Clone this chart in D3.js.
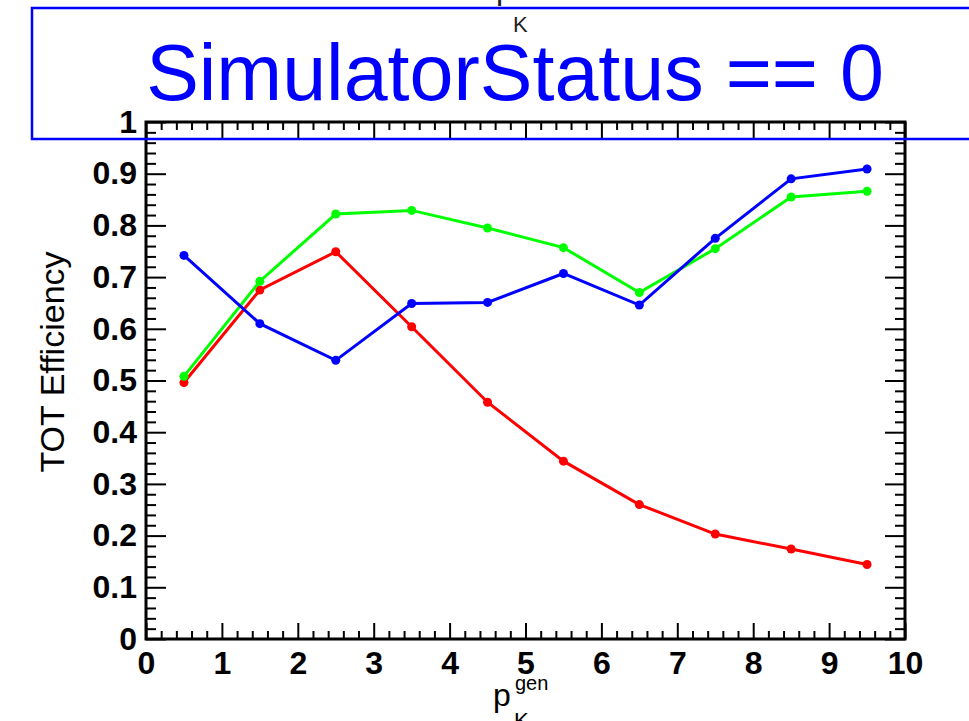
<!DOCTYPE html>
<html>
<head>
<meta charset="utf-8">
<script src="https://cdn.jsdelivr.net/npm/d3@7"></script>
<style>
  html, body { margin: 0; padding: 0; background: #fff; }
  svg { display: block; font-family: "Liberation Sans", Arial, Helvetica, sans-serif; }
</style>
</head>
<body>
<svg id="chart"></svg>
<script>
// p bins (bin centres)
const momentum = [0.5, 1.5, 2.5, 3.5, 4.5, 5.5, 6.5, 7.5, 8.5, 9.5]
const blueEff = [0.742, 0.610, 0.539, 0.649, 0.651, 0.707, 0.646, 0.775, 0.890, 0.909]
const greenEff = [0.508, 0.692, 0.822, 0.829, 0.795, 0.757, 0.670, 0.755, 0.855, 0.866]
const redEff = [0.496, 0.675, 0.749, 0.604, 0.458, 0.344, 0.260, 0.203, 0.174, 0.144]

const xTickLabels = ['0', '1', '2', '3', '4', '5', '6', '7', '8', '9', '10']
const yTickLabels = ['0', '0.1', '0.2', '0.3', '0.4', '0.5', '0.6', '0.7', '0.8', '0.9', '1']

const SVG_WIDTH = 969
const SVG_HEIGHT = 721
const LEFT = 146
const RIGHT = 905
const TOP = 122
const BOTTOM = 639

const svg = d3.select('svg')
  .attr('width', SVG_WIDTH)
  .attr('height', SVG_HEIGHT)

const xScale = d3.scaleLinear().domain([0, 10]).range([LEFT, RIGHT])
const yScale = d3.scaleLinear().domain([0, 1]).range([BOTTOM, TOP])

svg.append('rect')
  .attr('width', SVG_WIDTH)
  .attr('height', SVG_HEIGHT)
  .attr('fill', '#fff')

drawAxes()
drawSeries(redEff, '#ff0000')
drawSeries(greenEff, '#00ff00')
drawSeries(blueEff, '#0000ff')
drawFrame()
drawTexts()

function styleAxis(g) {
  g.select('.domain').remove()
  g.selectAll('.tick line').attr('stroke', '#000').attr('stroke-width', 2)
  g.selectAll('.tick text')
    .attr('fill', '#000')
    .attr('font-size', 32)
    .attr('font-weight', 'bold')
    .attr('font-family', '"Liberation Sans", Arial, sans-serif')
}

function drawAxes() {
  const xMajor = d3.range(0, 11)
  const xMinor = d3.range(0, 51).map(i => i / 5).filter(v => !Number.isInteger(v))
  const yMajor = d3.range(0, 11).map(i => i / 10)
  const yMinor = d3.range(0, 51).map(i => i / 50).filter((v, i) => i % 5 !== 0)

  // bottom
  svg.append('g')
    .attr('transform', `translate(0, ${BOTTOM})`)
    .call(d3.axisBottom(xScale).tickValues(xMajor).tickSize(-16).tickPadding(12)
      .tickFormat((d, i) => xTickLabels[i]))
    .call(styleAxis)
  svg.append('g')
    .attr('transform', `translate(0, ${BOTTOM})`)
    .call(d3.axisBottom(xScale).tickValues(xMinor).tickSize(-8).tickFormat(''))
    .call(styleAxis)

  // top
  svg.append('g')
    .attr('transform', `translate(0, ${TOP})`)
    .call(d3.axisTop(xScale).tickValues(xMajor).tickSize(-16).tickFormat(''))
    .call(styleAxis)
  svg.append('g')
    .attr('transform', `translate(0, ${TOP})`)
    .call(d3.axisTop(xScale).tickValues(xMinor).tickSize(-8).tickFormat(''))
    .call(styleAxis)

  // left
  svg.append('g')
    .attr('transform', `translate(${LEFT}, 0)`)
    .call(d3.axisLeft(yScale).tickValues(yMajor).tickSize(-20).tickPadding(9)
      .tickFormat((d, i) => yTickLabels[i]))
    .call(styleAxis)
  svg.append('g')
    .attr('transform', `translate(${LEFT}, 0)`)
    .call(d3.axisLeft(yScale).tickValues(yMinor).tickSize(-10).tickFormat(''))
    .call(styleAxis)

  // right
  svg.append('g')
    .attr('transform', `translate(${RIGHT}, 0)`)
    .call(d3.axisRight(yScale).tickValues(yMajor).tickSize(-20).tickFormat(''))
    .call(styleAxis)
  svg.append('g')
    .attr('transform', `translate(${RIGHT}, 0)`)
    .call(d3.axisRight(yScale).tickValues(yMinor).tickSize(-10).tickFormat(''))
    .call(styleAxis)
}

function drawSeries(values, color) {
  const line = d3.line()
    .x((d, i) => xScale(momentum[i]))
    .y(d => yScale(d))

  svg.append('path')
    .datum(values)
    .attr('d', line)
    .attr('fill', 'none')
    .attr('stroke', color)
    .attr('stroke-width', 3)

  svg.append('g')
    .selectAll('circle')
    .data(values)
    .enter()
    .append('circle')
    .attr('cx', (d, i) => xScale(momentum[i]))
    .attr('cy', d => yScale(d))
    .attr('r', 4.5)
    .attr('fill', color)
}

function drawFrame() {
  svg.append('rect')
    .attr('x', LEFT)
    .attr('y', TOP)
    .attr('width', RIGHT - LEFT)
    .attr('height', BOTTOM - TOP)
    .attr('fill', 'none')
    .attr('stroke', '#000')
    .attr('stroke-width', 3)
}

function drawTexts() {
  // y title
  svg.append('text')
    .attr('transform', 'translate(64, 362) rotate(-90)')
    .attr('text-anchor', 'middle')
    .attr('font-size', 34)
    .attr('fill', '#000')
    .text('TOT Efficiency')

  // x title p_K^gen
  const xt = svg.append('text')
    .attr('x', 493)
    .attr('y', 706)
    .attr('font-size', 32)
    .attr('fill', '#000')
  xt.append('tspan').text('p')
  svg.append('text')
    .attr('x', 515).attr('y', 690)
    .attr('font-size', 20).attr('fill', '#000')
    .text('gen')
  svg.append('text')
    .attr('x', 514).attr('y', 728)
    .attr('font-size', 22).attr('fill', '#000')
    .text('K')

  // clipped label at the very top
  svg.append('text')
    .attr('x', 496).attr('y', -1)
    .attr('font-size', 32).attr('fill', '#222')
    .text('p')
  svg.append('text')
    .attr('x', 513).attr('y', 32)
    .attr('font-size', 22).attr('fill', '#222')
    .text('K')

  // title box
  svg.append('rect')
    .attr('x', 32)
    .attr('y', 8)
    .attr('width', 1000)
    .attr('height', 131)
    .attr('fill', 'none')
    .attr('stroke', '#0000ff')
    .attr('stroke-width', 2.5)

  svg.append('text')
    .attr('x', 515)
    .attr('y', 100)
    .attr('text-anchor', 'middle')
    .attr('font-size', 79)
    .attr('fill', '#0000ff')
    .text('SimulatorStatus == 0')
}
</script>
</body>
</html>
